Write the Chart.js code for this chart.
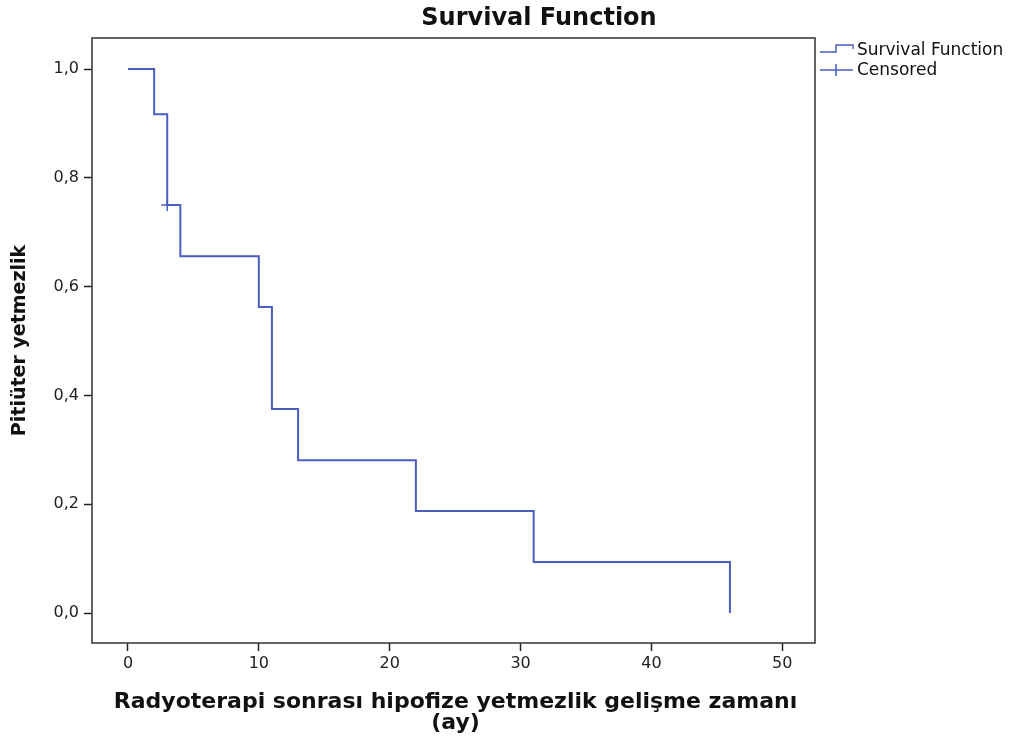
<!DOCTYPE html>
<html><head><meta charset="utf-8">
<script src="https://cdn.jsdelivr.net/npm/chart.js@4/dist/chart.umd.min.js"></script>
<style>html,body{margin:0;padding:0;background:#fff;}#wrap{width:1011px;height:740px;}</style>
</head><body><div id="wrap"><canvas id="c" width="1011" height="740"></canvas></div>
<script>
const times = [0, 2, 3, 4, 10, 11, 13, 22, 31, 46];
const survival = [1.0, 0.917, 0.75, 0.656, 0.5625, 0.375, 0.281, 0.1875, 0.094, 0.0];
const censoredTimes = [3];
const censoredSurv = [0.75];
const xTicks = [0, 10, 20, 30, 40, 50];
const yTicks = [0, 0.2, 0.4, 0.6, 0.8, 1.0];
const titleText = 'Survival Function';
const xTitle = ['Radyoterapi sonrası hipofize yetmezlik gelişme zamanı', '(ay)'];
const yTitle = 'Pitiüter yetmezlik';
const legendLabels = ['Survival Function', 'Censored'];

const lineColor = '#4a5ec0';
const WFONT = '"DejaVu Sans", Verdana, sans-serif';

const decor = {
  id: 'decor',
  afterDraw(chart) {
    const ctx = chart.ctx, a = chart.chartArea;
    ctx.save();
    // frame
    ctx.strokeStyle = '#333';
    ctx.lineWidth = 1.5;
    ctx.strokeRect(a.left, a.top, a.right - a.left, a.bottom - a.top);
    // title
    ctx.fillStyle = '#111';
    ctx.font = 'bold 24px ' + WFONT;
    ctx.textAlign = 'center';
    ctx.textBaseline = 'middle';
    ctx.fillText(titleText, 539, 19);
    // x title
    ctx.font = 'bold 22px ' + WFONT;
    const cx = (a.left + a.right) / 2 + 2;
    ctx.fillText(xTitle[0], cx, 702);
    ctx.fillText(xTitle[1], cx, 723);
    // y title
    ctx.save();
    ctx.translate(20, (a.top + a.bottom) / 2);
    ctx.rotate(-Math.PI / 2);
    ctx.font = 'bold 19px ' + WFONT;
    ctx.fillText(yTitle, 0, 0);
    ctx.restore();
    // legend
    ctx.strokeStyle = lineColor;
    ctx.lineWidth = 1.5;
    ctx.beginPath();
    ctx.moveTo(820, 52); ctx.lineTo(836, 52); ctx.lineTo(836, 45); ctx.lineTo(853, 45); ctx.lineTo(853, 49);
    ctx.stroke();
    ctx.beginPath();
    ctx.moveTo(820, 70); ctx.lineTo(853, 70);
    ctx.moveTo(836, 64); ctx.lineTo(836, 76);
    ctx.stroke();
    ctx.fillStyle = '#111';
    ctx.font = '17px ' + WFONT;
    ctx.textAlign = 'left';
    ctx.fillText(legendLabels[0], 857, 51);
    ctx.fillText(legendLabels[1], 857, 71);
    ctx.restore();
  }
};

new Chart(document.getElementById('c'), {
  type: 'scatter',
  data: {
    datasets: [
      {
        label: legendLabels[0],
        data: times.map((t, i) => ({x: t, y: survival[i]})),
        showLine: true,
        stepped: 'before',
        borderColor: lineColor,
        borderWidth: 2,
        pointRadius: 0,
        fill: false
      },
      {
        label: legendLabels[1],
        data: censoredTimes.map((t, i) => ({x: t, y: censoredSurv[i]})),
        showLine: false,
        pointStyle: 'cross',
        pointRadius: 6,
        borderColor: lineColor,
        borderWidth: 1.5
      }
    ]
  },
  options: {
    responsive: false,
    animation: false,
    devicePixelRatio: 1,
    layout: {padding: {left: 0, top: 38, right: 196, bottom: 0}},
    plugins: {legend: {display: false}, title: {display: false}, tooltip: {enabled: false}},
    scales: {
      x: {
        type: 'linear',
        min: -2.75, max: 52.5,
        afterBuildTicks: s => { s.ticks = xTicks.map(v => ({value: v})); },
        afterFit: s => { s.height = 97; },
        grid: {drawOnChartArea: false, tickLength: 8, tickColor: '#222', tickWidth: 1.5},
        border: {display: false},
        ticks: {color: '#222', font: {family: WFONT, size: 16}, padding: 3, callback: v => String(v)}
      },
      y: {
        type: 'linear',
        min: -0.055, max: 1.057,
        afterBuildTicks: s => { s.ticks = yTicks.map(v => ({value: v})); },
        afterFit: s => { s.width = 92; },
        grid: {drawOnChartArea: false, tickLength: 8, tickColor: '#222', tickWidth: 1.5},
        border: {display: false},
        ticks: {color: '#222', font: {family: WFONT, size: 16}, padding: 5, callback: v => v.toFixed(1).replace('.', ',')}
      }
    }
  },
  plugins: [decor]
});
</script>
</body></html>
